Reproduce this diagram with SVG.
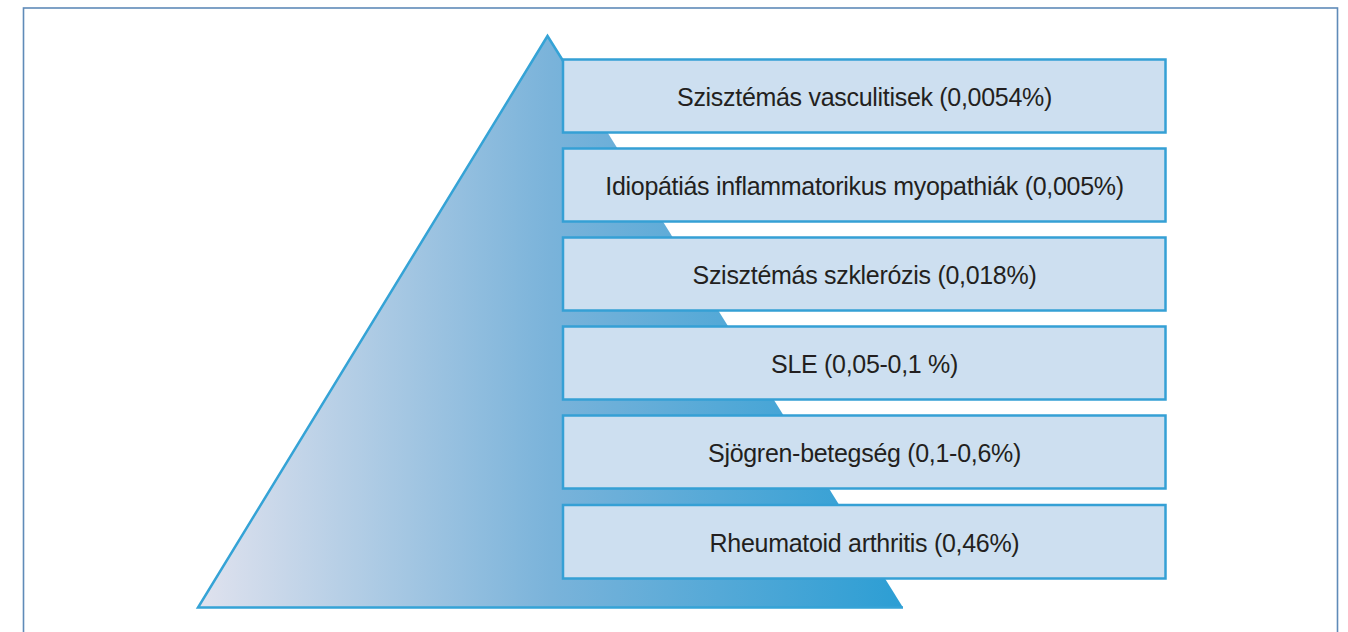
<svg xmlns="http://www.w3.org/2000/svg" width="1348" height="632" viewBox="0 0 1348 632">
<defs>
<linearGradient id="tri" x1="198" y1="0" x2="903" y2="0" gradientUnits="userSpaceOnUse">
<stop offset="0" stop-color="#e0e2ee"/>
<stop offset="0.5" stop-color="#7ab3da"/>
<stop offset="1" stop-color="#2c9ed4"/>
</linearGradient>
<style>
.box rect{fill:#cddff0;stroke:#35a0d5;stroke-width:2.5}
.box text{font-family:"Liberation Sans",Arial,sans-serif;font-size:25px;letter-spacing:-0.3px;fill:#231f20;text-anchor:middle}
</style>
</defs>
<rect id="frame" x="23.5" y="8" width="1314" height="640" fill="#fff" stroke="#5f8bb8" stroke-width="1.6"/>
<g id="pyramid">
<polygon points="547.5,36 903,607.5 198,607.5" fill="url(#tri)"/>
<polyline points="903,607.5 198,607.5 547.5,36 580,88" fill="none" stroke="#35a3d6" stroke-width="2.5" stroke-linejoin="miter"/>
</g>
<g id="connectors"/>
<g id="n1" class="box"><rect x="563" y="59.5" width="602.5" height="73"/><text x="864.5" y="105.5">Szisztémás vasculitisek (0,0054%)</text></g>
<g id="n2" class="box"><rect x="563" y="148.5" width="602.5" height="73"/><text x="864.5" y="194.5">Idiopátiás inflammatorikus myopathiák (0,005%)</text></g>
<g id="n3" class="box"><rect x="563" y="237.5" width="602.5" height="73"/><text x="864.5" y="283.5">Szisztémás szklerózis (0,018%)</text></g>
<g id="n4" class="box"><rect x="563" y="326.5" width="602.5" height="73"/><text x="864.5" y="372.5">SLE (0,05-0,1 %)</text></g>
<g id="n5" class="box"><rect x="563" y="415.5" width="602.5" height="73"/><text x="864.5" y="461.5">Sjögren-betegség (0,1-0,6%)</text></g>
<g id="n6" class="box"><rect x="563" y="505" width="602.5" height="73.5"/><text x="864.5" y="551.5">Rheumatoid arthritis (0,46%)</text></g>
</svg>
